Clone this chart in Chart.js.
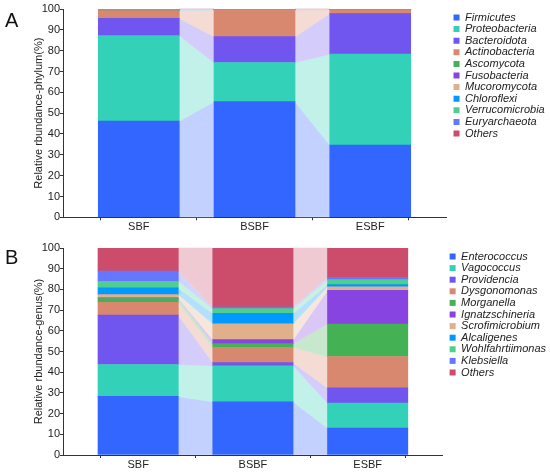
<!DOCTYPE html>
<html><head><meta charset="utf-8">
<script src="https://cdn.jsdelivr.net/npm/chart.js@4.4.0/dist/chart.umd.min.js"></script>
<style>
html,body{margin:0;padding:0;background:#fff;}
#wrap{position:relative;width:550px;height:473px;overflow:hidden;}
.panel{position:absolute;left:0;width:550px;}
#pA{top:0;height:236px;}
#pB{top:236px;height:237px;}
canvas{display:block;}
.lab{position:absolute;font-family:'Liberation Sans',Arial,sans-serif;font-size:20px;line-height:20px;color:#111;}
</style></head>
<body>
<div id="wrap">
 <div class="panel" id="pA"><canvas id="cA" width="550" height="236"></canvas></div>
 <div class="panel" id="pB"><canvas id="cB" width="550" height="237"></canvas></div>
 <div class="lab" style="left:5px;top:10px">A</div>
 <div class="lab" style="left:5px;top:247px">B</div>
</div>
<script>
// ---- data ----
const categories = ['SBF', 'BSBF', 'ESBF'];

const phylumNames = ['Firmicutes','Proteobacteria','Bacteroidota','Actinobacteria','Ascomycota','Fusobacteria','Mucoromycota','Chloroflexi','Verrucomicrobia','Euryarchaeota','Others'];
const phylumFirmicutes      = [46.2, 55.5, 34.7];
const phylumProteobacteria  = [41.0, 18.8, 43.6];
const phylumBacteroidota    = [8.3, 12.4, 19.5];
const phylumActinobacteria  = [3.7, 13.0, 1.9];
const phylumAscomycota      = [0.1, 0, 0];
const phylumFusobacteria    = [0.1, 0, 0.1];
const phylumMucoromycota    = [0.1, 0, 0];
const phylumChloroflexi     = [0.1, 0, 0];
const phylumVerrucomicrobia = [0.2, 0.2, 0.1];
const phylumEuryarchaeota   = [0.1, 0, 0];
const phylumOthers          = [0.1, 0.1, 0.1];

const genusNames = ['Enterococcus','Vagococcus','Providencia','Dysgonomonas','Morganella','Ignatzschineria','Scrofimicrobium','Alcaligenes','Wohlfahrtiimonas','Klebsiella','Others'];
const genusEnterococcus     = [28.3, 25.7, 13.0];
const genusVagococcus       = [15.4, 17.4, 12.1];
const genusProvidencia      = [23.9, 1.5, 7.3];
const genusDysgonomonas     = [6.2, 7.4, 15.2];
const genusMorganella       = [1.8, 1.8, 15.7];
const genusIgnatzschineria  = [0.3, 1.9, 16.2];
const genusScrofimicrobium  = [1.6, 7.7, 1.8];
const genusAlcaligenes      = [3.2, 5.0, 1.0];
const genusWohlfahrtiimonas = [3.2, 2.3, 2.4];
const genusKlebsiella       = [4.9, 0.8, 1.1];
const genusOthers           = [11.2, 28.5, 14.2];

const yTicks = [0,10,20,30,40,50,60,70,80,90,100];

// ---- styles ----
const palette = ['#3366FF','#33D1B8','#7055EE','#D98870','#44B155','#8844E0','#E0B08A','#0099FF','#4FCF8F','#6677FF','#CC4D6B'];
const FONT = "'Liberation Sans', Arial, sans-serif";
const TXT = '#222';
const AXIS = '#333';

function lighten(hex, a) {
  const n = parseInt(hex.slice(1), 16);
  const r = (n >> 16) & 255, g = (n >> 8) & 255, b = n & 255;
  const m = c => Math.round(255 - (255 - c) * a);
  return 'rgb(' + m(r) + ',' + m(g) + ',' + m(b) + ')';
}

const bandPlugin = {
  id: 'bands',
  beforeDatasetsDraw(chart) {
    const ctx = chart.ctx;
    chart.data.datasets.forEach((ds, di) => {
      const meta = chart.getDatasetMeta(di);
      const els = meta.data;
      for (let i = 0; i < els.length - 1; i++) {
        const a = els[i].getProps(['x','y','base','width'], true);
        const b = els[i + 1].getProps(['x','y','base','width'], true);
        if (Math.abs(a.y - a.base) < 0.01 && Math.abs(b.y - b.base) < 0.01) continue;
        ctx.save();
        ctx.fillStyle = ds.bandColor;
        ctx.strokeStyle = ds.bandColor;
        ctx.lineWidth = 0.6;
        ctx.beginPath();
        ctx.moveTo(a.x + a.width / 2, a.y);
        ctx.lineTo(b.x - b.width / 2, b.y);
        ctx.lineTo(b.x - b.width / 2, b.base);
        ctx.lineTo(a.x + a.width / 2, a.base);
        ctx.closePath();
        ctx.fill();
        ctx.stroke();
        ctx.restore();
      }
    });
  }
};

function makeChart(id, names, series, yTitle, cfg) {
  const datasets = names.map((n, k) => ({
    label: n,
    data: series[k].map((v, i) => ({x: i, y: v})),
    backgroundColor: palette[k],
    bandColor: lighten(palette[k], 0.3),
    borderWidth: 0,
    barThickness: 'flex',
    barPercentage: 0.7,
    categoryPercentage: 1.0
  }));
  return new Chart(document.getElementById(id), {
    type: 'bar',
    data: {datasets},
    plugins: [bandPlugin],
    options: {
      responsive: false,
      animation: false,
      layout: {padding: {left: 32, top: cfg.top, right: cfg.right, bottom: 0}},
      plugins: {
        tooltip: {enabled: false},
        legend: {
          position: 'right', align: 'start', maxWidth: 160,
          title: {display: true, text: ' ', font: {size: 2}, padding: 0},
          labels: {boxWidth: 6, boxHeight: 6, padding: 0.6, color: TXT,
                   font: {family: FONT, size: 11, style: 'italic'}}
        }
      },
      scales: {
        x: {
          type: 'linear', stacked: true, min: -0.655, max: 2.655, offset: false,
          afterBuildTicks: s => { s.ticks = [s.min, 0, 1, 2, s.max].map(v => ({value: v})); },
          afterFit: s => { s.height = cfg.xh; },
          ticks: {callback: v => (categories[v] !== undefined ? categories[v] : ''), autoSkip: false, maxRotation: 0, padding: 0, color: TXT, font: {family: FONT, size: 11}},
          grid: {display: true, drawOnChartArea: false, tickLength: 3, color: AXIS, lineWidth: 1},
          border: {display: true, color: AXIS, width: 1}
        },
        y: {
          stacked: true, min: 0, max: 100,
          afterBuildTicks: s => { s.ticks = yTicks.map(v => ({value: v})); },
          afterFit: s => { s.width = 31; },
          ticks: {padding: 0, color: TXT, font: {family: FONT, size: 11}},
          grid: {display: true, drawOnChartArea: false, tickLength: 3, color: AXIS, lineWidth: 1},
          border: {display: true, color: AXIS, width: 1},
          title: {display: true, text: yTitle, color: TXT, font: {family: FONT, size: 11}, padding: {top: 0, bottom: 0}}
        },
        gap: {
          type: 'linear', position: 'right', display: true,
          grid: {display: false}, ticks: {display: false}, border: {display: false},
          afterFit: s => { s.width = cfg.gap; }
        }
      }
    }
  });
}

makeChart('cA', phylumNames,
  [phylumFirmicutes, phylumProteobacteria, phylumBacteroidota, phylumActinobacteria, phylumAscomycota, phylumFusobacteria, phylumMucoromycota, phylumChloroflexi, phylumVerrucomicrobia, phylumEuryarchaeota, phylumOthers],
  'Relative rbundance-phylum(%)', {top: 9, xh: 18.7, gap: 6.9, right: -4.7});

makeChart('cB', genusNames,
  [genusEnterococcus, genusVagococcus, genusProvidencia, genusDysgonomonas, genusMorganella, genusIgnatzschineria, genusScrofimicrobium, genusAlcaligenes, genusWohlfahrtiimonas, genusKlebsiella, genusOthers],
  'Relative rbundance-genus(%)', {top: 12, xh: 18, gap: 6.2, right: -6.1});
</script>
</body></html>
